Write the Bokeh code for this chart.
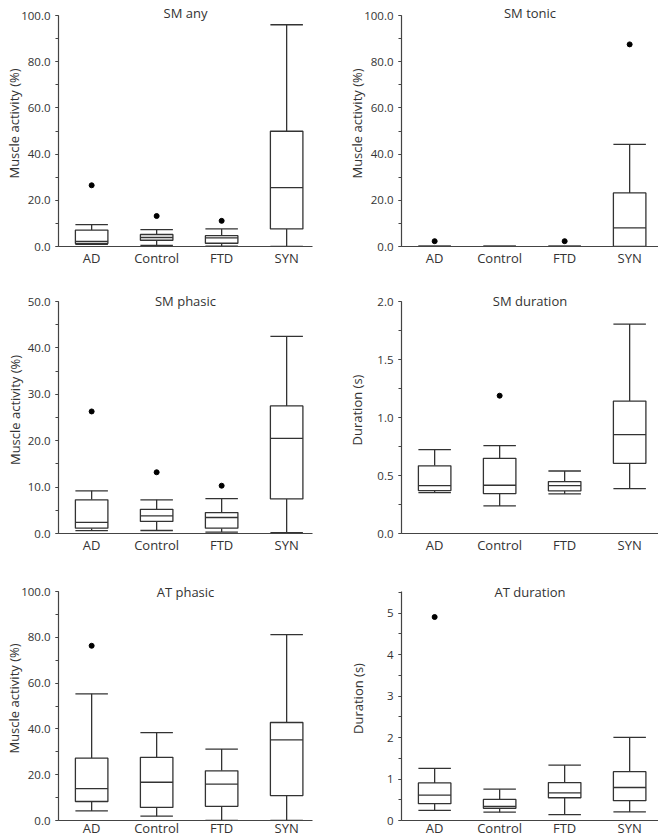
from bokeh.plotting import figure
from bokeh.models import (Range1d, FixedTicker, SingleIntervalTicker,
                          NumeralTickFormatter, Label, ColumnDataSource)
from bokeh.layouts import gridplot
from bokeh.embed import file_html
from bokeh.resources import INLINE

groups = ["AD", "Control", "FTD", "SYN"]

# ---- SM any (% muscle activity)
sm_any_low = [0.9, 0.5, 0.1, 0.0]
sm_any_q1 = [1.3, 2.7, 1.4, 7.6]
sm_any_med = [2.2, 3.9, 3.7, 25.5]
sm_any_q3 = [7.1, 5.2, 4.7, 49.9]
sm_any_high = [9.5, 7.3, 7.6, 96.0]
sm_any_out_group = ["AD", "Control", "FTD"]
sm_any_out_value = [26.5, 13.2, 11.1]

# ---- SM tonic
sm_tonic_low = [0.0, 0.0, 0.0, 0.0]
sm_tonic_q1 = [0.0, 0.0, 0.0, 0.0]
sm_tonic_med = [0.0, 0.0, 0.0, 8.1]
sm_tonic_q3 = [0.0, 0.0, 0.0, 23.2]
sm_tonic_high = [0.0, 0.0, 0.0, 44.2]
sm_tonic_out_group = ["AD", "FTD", "SYN"]
sm_tonic_out_value = [2.3, 2.3, 87.5]

# ---- SM phasic
sm_phasic_low = [0.6, 0.65, 0.3, 0.2]
sm_phasic_q1 = [1.15, 2.6, 1.15, 7.45]
sm_phasic_med = [2.4, 3.8, 3.45, 20.5]
sm_phasic_q3 = [7.25, 5.2, 4.5, 27.5]
sm_phasic_high = [9.2, 7.25, 7.5, 42.5]
sm_phasic_out_group = ["AD", "Control", "FTD"]
sm_phasic_out_value = [26.3, 13.2, 10.3]

# ---- SM duration (s)
sm_dur_low = [0.353, 0.238, 0.341, 0.387]
sm_dur_q1 = [0.37, 0.344, 0.367, 0.605]
sm_dur_med = [0.413, 0.416, 0.413, 0.852]
sm_dur_q3 = [0.583, 0.648, 0.448, 1.142]
sm_dur_high = [0.723, 0.757, 0.539, 1.805]
sm_dur_out_group = ["Control"]
sm_dur_out_value = [1.188]

# ---- AT phasic
at_phasic_low = [4.2, 1.9, 0.0, 0.0]
at_phasic_q1 = [8.3, 5.7, 6.2, 10.9]
at_phasic_med = [13.9, 16.7, 15.9, 35.2]
at_phasic_q3 = [27.2, 27.6, 21.7, 42.8]
at_phasic_high = [55.3, 38.4, 31.2, 81.2]
at_phasic_out_group = ["AD"]
at_phasic_out_value = [76.3]

# ---- AT duration (s)
at_dur_low = [0.246, 0.20, 0.143, 0.207]
at_dur_q1 = [0.405, 0.294, 0.548, 0.477]
at_dur_med = [0.612, 0.337, 0.668, 0.795]
at_dur_q3 = [0.906, 0.509, 0.914, 1.176]
at_dur_high = [1.256, 0.755, 1.335, 2.003]
at_dur_out_group = ["AD"]
at_dur_out_value = [4.905]

FONT = "Open Sans"
LINE = "#333333"
AXIS = "#444444"
TXT = "#333333"
PX_PER_CAT = 65.0
X_START = 0.49
HALF = 0.25
PAD = 15  # px of frame kept above the data area for the panel title

COLS = [dict(width=330, left=58, right=18), dict(width=328, left=71, right=0)]
ROWS = [dict(height=280, top=0, bottom=34, title_off=2.4, xs=2),
        dict(height=280, top=6, bottom=27, title_off=0.4, xs=2),
        dict(height=279, top=16, bottom=19, title_off=-0.6, xs=-2)]


def panel(title, ylabel, low, q1, med, q3, high, out_g, out_v,
          y_top, major, fmt, col, row, lab_standoff):
    c = COLS[col]
    r = ROWS[row]
    fw = c["width"] - c["left"] - c["right"]
    data_h = r["height"] - r["top"] - r["bottom"] - PAD
    x_end = X_START + fw / PX_PER_CAT
    per_px = y_top / data_h
    p = figure(width=c["width"], height=r["height"], output_backend="svg",
               toolbar_location=None, x_range=Range1d(X_START, x_end),
               y_range=Range1d(0, y_top + PAD * per_px),
               min_border_left=c["left"], min_border_right=c["right"],
               min_border_top=r["top"], min_border_bottom=r["bottom"])
    p.outline_line_color = None
    p.background_fill_color = "white"
    p.border_fill_color = "white"
    p.xgrid.visible = False
    p.ygrid.visible = False

    xs = [groups.index(g) + 1 for g in groups]
    src = ColumnDataSource(dict(
        x=xs, xl=[x - HALF for x in xs], xr=[x + HALF for x in xs],
        low=low, q1=q1, med=med, q3=q3, high=high))
    # whiskers
    p.segment(x0="x", y0="q3", x1="x", y1="high", source=src,
              line_color=LINE, line_width=1.3)
    p.segment(x0="x", y0="q1", x1="x", y1="low", source=src,
              line_color=LINE, line_width=1.3)
    p.segment(x0="xl", y0="high", x1="xr", y1="high", source=src,
              line_color=LINE, line_width=1.3)
    p.segment(x0="xl", y0="low", x1="xr", y1="low", source=src,
              line_color=LINE, line_width=1.3)
    # boxes
    p.vbar(x="x", top="q3", bottom="q1", width=2 * HALF, source=src,
           fill_color="white", line_color=LINE, line_width=1.3)
    p.segment(x0="xl", y0="med", x1="xr", y1="med", source=src,
              line_color=LINE, line_width=1.3)
    # outliers
    ox = [groups.index(g) + 1 for g in out_g]
    p.scatter(ox, out_v, size=5, color="black")

    # x axis
    p.xaxis.ticker = FixedTicker(ticks=xs)
    p.xaxis.major_label_overrides = {x: g for x, g in zip(xs, groups)}
    p.xaxis.major_tick_out = 0
    p.xaxis.major_tick_in = 0
    p.xaxis.minor_tick_out = 0
    p.xaxis.major_label_standoff = r["xs"]
    p.xaxis.major_label_text_font = FONT
    p.xaxis.major_label_text_font_size = "13px"
    p.xaxis.major_label_text_color = TXT
    p.xaxis.axis_line_color = AXIS
    p.xaxis.axis_line_width = 1.2

    # y axis
    p.yaxis.bounds = (0, y_top)
    p.yaxis.ticker = SingleIntervalTicker(interval=major, num_minor_ticks=2)
    p.yaxis.formatter = NumeralTickFormatter(format=fmt)
    p.yaxis.major_tick_out = 3
    p.yaxis.major_tick_in = 0
    p.yaxis.minor_tick_out = 3
    p.yaxis.minor_tick_in = 0
    p.yaxis.major_tick_line_color = AXIS
    p.yaxis.minor_tick_line_color = AXIS
    p.yaxis.axis_line_color = AXIS
    p.yaxis.axis_line_width = 1.2
    p.yaxis.major_label_standoff = 5
    p.yaxis.major_label_text_font = FONT
    p.yaxis.major_label_text_font_size = "11.5px"
    p.yaxis.major_label_text_color = TXT
    p.yaxis.axis_label = ylabel
    p.yaxis.axis_label_text_font = FONT
    p.yaxis.axis_label_text_font_size = "13px"
    p.yaxis.axis_label_text_font_style = "normal"
    p.yaxis.axis_label_text_color = TXT
    p.yaxis.axis_label_standoff = lab_standoff

    p.add_layout(Label(x=(X_START + x_end) / 2,
                       y=y_top + r["title_off"] * per_px, text=title,
                       text_align="center", text_baseline="alphabetic",
                       text_font=FONT, text_font_size="13px",
                       text_color=TXT))
    return p


p1 = panel("SM any", "Muscle activity (%)", sm_any_low, sm_any_q1, sm_any_med,
           sm_any_q3, sm_any_high, sm_any_out_group, sm_any_out_value,
           100, 20, "0.0", 0, 0, -5)
p2 = panel("SM tonic", "Muscle activity (%)", sm_tonic_low, sm_tonic_q1,
           sm_tonic_med, sm_tonic_q3, sm_tonic_high, sm_tonic_out_group,
           sm_tonic_out_value, 100, 20, "0.0", 1, 0, -5)
p3 = panel("SM phasic", "Muscle activity (%)", sm_phasic_low, sm_phasic_q1,
           sm_phasic_med, sm_phasic_q3, sm_phasic_high, sm_phasic_out_group,
           sm_phasic_out_value, 50, 10, "0.0", 0, 1, 1)
p4 = panel("SM duration", "Duration (s)", sm_dur_low, sm_dur_q1, sm_dur_med,
           sm_dur_q3, sm_dur_high, sm_dur_out_group, sm_dur_out_value,
           2.0, 0.5, "0.0", 1, 1, 8)
p5 = panel("AT phasic", "Muscle activity (%)", at_phasic_low, at_phasic_q1,
           at_phasic_med, at_phasic_q3, at_phasic_high, at_phasic_out_group,
           at_phasic_out_value, 100, 20, "0.0", 0, 2, -5)
p6 = panel("AT duration", "Duration (s)", at_dur_low, at_dur_q1, at_dur_med,
           at_dur_q3, at_dur_high, at_dur_out_group, at_dur_out_value,
           5.0 + 0.52, 1, "0", 1, 2, 17)

grid = gridplot([[p1, p2], [p3, p4], [p5, p6]], toolbar_location=None)

open("out.html", "w").write(file_html(grid, INLINE))
